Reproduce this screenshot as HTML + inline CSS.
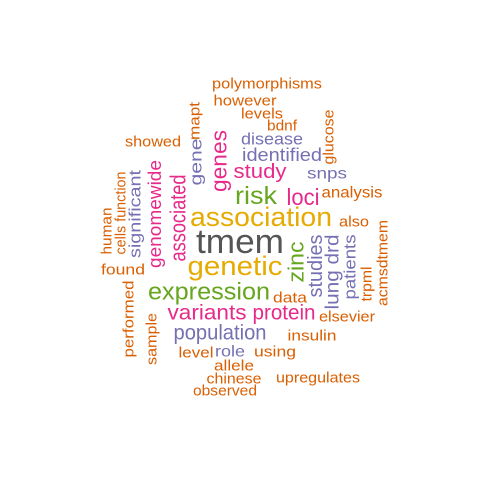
<!DOCTYPE html>
<html><head><meta charset="utf-8"><style>
html,body{margin:0;padding:0;background:#fff}
svg{display:block}
text{font-family:"Liberation Sans",Arial,sans-serif;dominant-baseline:central;text-anchor:middle}
.o{fill:#D95F02}.p{fill:#7570B3}.k{fill:#E7298A}.g{fill:#66A61E}.y{fill:#E6AB02}.d{fill:#555555}
</style></head><body>
<svg width="480" height="480" viewBox="0 0 480 480">
<rect width="480" height="480" fill="#fff"/>
<g>
<text class="o" x="267" y="84" font-size="15" textLength="110" lengthAdjust="spacingAndGlyphs">polymorphisms</text>
<text class="o" x="245" y="101" font-size="15" textLength="63" lengthAdjust="spacingAndGlyphs">however</text>
<text class="o" x="262" y="114" font-size="15" textLength="42" lengthAdjust="spacingAndGlyphs">levels</text>
<text class="o" x="282" y="126" font-size="15" textLength="30" lengthAdjust="spacingAndGlyphs">bdnf</text>
<text class="o" x="153" y="142" font-size="15" textLength="56" lengthAdjust="spacingAndGlyphs">showed</text>
<text class="p" x="272" y="139" font-size="17" textLength="62" lengthAdjust="spacingAndGlyphs">disease</text>
<text class="p" x="282" y="155" font-size="18" textLength="80" lengthAdjust="spacingAndGlyphs">identified</text>
<text class="k" x="260" y="172" font-size="20" textLength="53" lengthAdjust="spacingAndGlyphs">study</text>
<text class="p" x="327" y="174" font-size="16" textLength="40" lengthAdjust="spacingAndGlyphs">snps</text>
<text class="g" x="256" y="196" font-size="25" textLength="42" lengthAdjust="spacingAndGlyphs">risk</text>
<text class="k" x="303" y="197" font-size="23" textLength="33" lengthAdjust="spacingAndGlyphs">loci</text>
<text class="o" x="352" y="193" font-size="16" textLength="61" lengthAdjust="spacingAndGlyphs">analysis</text>
<text class="y" x="261" y="217" font-size="27" textLength="142" lengthAdjust="spacingAndGlyphs">association</text>
<text class="o" x="354" y="222" font-size="15" textLength="30" lengthAdjust="spacingAndGlyphs">also</text>
<text class="d" x="240" y="242" font-size="34" textLength="88" lengthAdjust="spacingAndGlyphs">tmem</text>
<text class="y" x="235" y="266" font-size="27" textLength="95" lengthAdjust="spacingAndGlyphs">genetic</text>
<text class="o" x="123" y="270" font-size="15" textLength="44" lengthAdjust="spacingAndGlyphs">found</text>
<text class="g" x="209" y="292" font-size="24" textLength="122" lengthAdjust="spacingAndGlyphs">expression</text>
<text class="o" x="290" y="298" font-size="15" textLength="34" lengthAdjust="spacingAndGlyphs">data</text>
<text class="k" x="207" y="313" font-size="21" textLength="79" lengthAdjust="spacingAndGlyphs">variants</text>
<text class="k" x="284" y="313" font-size="21" textLength="63" lengthAdjust="spacingAndGlyphs">protein</text>
<text class="o" x="347" y="317" font-size="15" textLength="56" lengthAdjust="spacingAndGlyphs">elsevier</text>
<text class="p" x="220" y="333" font-size="21" textLength="93" lengthAdjust="spacingAndGlyphs">population</text>
<text class="o" x="312" y="336" font-size="15" textLength="49" lengthAdjust="spacingAndGlyphs">insulin</text>
<text class="o" x="196" y="353" font-size="15" textLength="35" lengthAdjust="spacingAndGlyphs">level</text>
<text class="p" x="230" y="352" font-size="16" textLength="30" lengthAdjust="spacingAndGlyphs">role</text>
<text class="o" x="275" y="352" font-size="15" textLength="42" lengthAdjust="spacingAndGlyphs">using</text>
<text class="o" x="234" y="366" font-size="15" textLength="40" lengthAdjust="spacingAndGlyphs">allele</text>
<text class="o" x="234" y="379" font-size="15" textLength="55" lengthAdjust="spacingAndGlyphs">chinese</text>
<text class="o" x="318" y="378" font-size="15" textLength="84" lengthAdjust="spacingAndGlyphs">upregulates</text>
<text class="o" x="225" y="391" font-size="15" textLength="64" lengthAdjust="spacingAndGlyphs">observed</text>
</g>
<g>
<text class="o" transform="translate(195,121) rotate(-90)" font-size="15" textLength="38" lengthAdjust="spacingAndGlyphs">mapt</text>
<text class="p" transform="translate(196,162) rotate(-90)" font-size="17" textLength="47" lengthAdjust="spacingAndGlyphs">gene</text>
<text class="k" transform="translate(219,161) rotate(-90)" font-size="22" textLength="62" lengthAdjust="spacingAndGlyphs">genes</text>
<text class="o" transform="translate(329,137) rotate(-90)" font-size="15" textLength="55" lengthAdjust="spacingAndGlyphs">glucose</text>
<text class="k" transform="translate(178,218) rotate(-90)" font-size="22" textLength="87" lengthAdjust="spacingAndGlyphs">associated</text>
<text class="k" transform="translate(155,214) rotate(-90)" font-size="18" textLength="108" lengthAdjust="spacingAndGlyphs">genomewide</text>
<text class="p" transform="translate(135,214) rotate(-90)" font-size="17" textLength="88" lengthAdjust="spacingAndGlyphs">significant</text>
<text class="o" transform="translate(121,213) rotate(-90)" font-size="15" textLength="83" lengthAdjust="spacingAndGlyphs">cells function</text>
<text class="o" transform="translate(107,231) rotate(-90)" font-size="15" textLength="47" lengthAdjust="spacingAndGlyphs">human</text>
<text class="o" transform="translate(129,319) rotate(-90)" font-size="15" textLength="77" lengthAdjust="spacingAndGlyphs">performed</text>
<text class="o" transform="translate(152,339) rotate(-90)" font-size="15" textLength="52" lengthAdjust="spacingAndGlyphs">sample</text>
<text class="g" transform="translate(296,262) rotate(-90)" font-size="22" textLength="41" lengthAdjust="spacingAndGlyphs">zinc</text>
<text class="p" transform="translate(316,266) rotate(-90)" font-size="20" textLength="63" lengthAdjust="spacingAndGlyphs">studies</text>
<text class="p" transform="translate(333,272) rotate(-90)" font-size="19" textLength="75" lengthAdjust="spacingAndGlyphs">lung drd</text>
<text class="p" transform="translate(350,267) rotate(-90)" font-size="17" textLength="65" lengthAdjust="spacingAndGlyphs">patients</text>
<text class="o" transform="translate(367,284) rotate(-90)" font-size="15" textLength="35" lengthAdjust="spacingAndGlyphs">trpml</text>
<text class="o" transform="translate(383,263) rotate(-90)" font-size="15" textLength="86" lengthAdjust="spacingAndGlyphs">acmsdtmem</text>
</g>
</svg>
</body></html>
